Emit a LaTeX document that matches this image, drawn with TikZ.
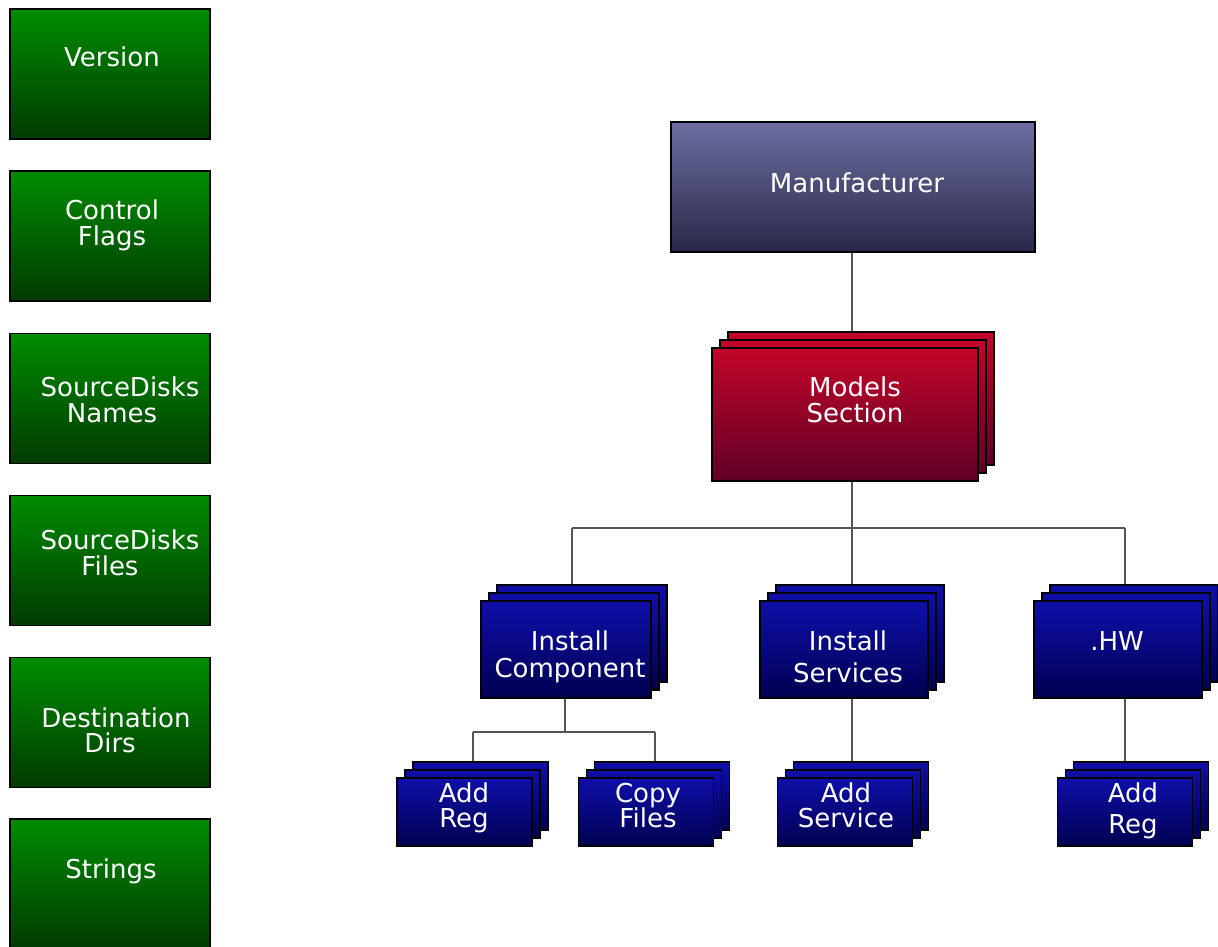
\documentclass[tikz,border=0pt]{standalone}
\usepackage{fontspec}
\setmainfont{DejaVu Sans}
\definecolor{G1}{RGB}{0,140,0}
\definecolor{G2}{RGB}{0,58,0}
\definecolor{M1}{RGB}{110,110,162}
\definecolor{M2}{RGB}{40,40,72}
\definecolor{R1}{RGB}{195,5,40}
\definecolor{R2}{RGB}{95,0,40}
\definecolor{B1}{RGB}{15,15,170}
\definecolor{B2}{RGB}{0,0,80}
\definecolor{LN}{RGB}{85,85,85}
\tikzset{
  boxbase/.style={draw=black,line width=1.5pt,inner sep=0pt},
  greenbox/.style={boxbase,top color=G1,bottom color=G2,minimum width=200pt,minimum height=130pt},
  mfrbox/.style={boxbase,top color=M1,bottom color=M2,minimum width=364pt,minimum height=130pt},
  redbox/.style={boxbase,top color=R1,bottom color=R2},
  bluebox/.style={boxbase,top color=B1,bottom color=B2},
  lbl/.style={text=white,font=\fontsize{26}{26}\selectfont,anchor=base,inner sep=0pt},
  conn/.style={draw=LN,line width=2.3pt}
}
\newcommand\mkstack[6]{%
  \node[#6,minimum width=#4,minimum height=#5] (#1c) at (#2+16,#3-16) {};
  \node[#6,minimum width=#4,minimum height=#5] (#1b) at (#2+8,#3-8) {};
  \node[#6,minimum width=#4,minimum height=#5] (#1) at (#2,#3) {};
}
\begin{document}
\begin{tikzpicture}[x=1pt,y=-1pt]
\useasboundingbox (0,0) rectangle (1218,947);
\clip (0,0) rectangle (1218,947);
\fill[white] (0,0) rectangle (1218,947);
% green column
\node[greenbox] (ver) at (110,74) {};
\node[greenbox] (cfl) at (110,236) {};
\node[greenbox] (sdn) at (110,398.5) {};
\node[greenbox] (sdf) at (110,560.5) {};
\node[greenbox] (dd) at (110,722.5) {};
\node[greenbox] (str) at (110,884) {};
\node[lbl] at (112,67) {Version};
\node[lbl] at (112,219) {Control};
\node[lbl] at (112,245) {Flags};
\node[lbl] at (120,396) {SourceDisks};
\node[lbl] at (112,422) {Names};
\node[lbl] at (120,549) {SourceDisks};
\node[lbl] at (110,575) {Files};
\node[lbl] at (116,727) {Destination};
\node[lbl] at (110,752) {Dirs};
\node[lbl] at (111,878) {Strings};
% tree
\node[mfrbox] (mfr) at (853,187) {};
\node[lbl] at (857,193) {Manufacturer};
\mkstack{models}{845}{414.5}{266pt}{133pt}{redbox}
\node[lbl] at (855,396) {Models};
\node[lbl] at (855,422) {Section};
\mkstack{ic}{566}{649.5}{170pt}{97pt}{bluebox}
\node[lbl] at (570,650) {Install};
\node[lbl] at (570,677) {Component};
\mkstack{is}{844}{649.5}{168pt}{97pt}{bluebox}
\node[lbl] at (848,650) {Install};
\node[lbl] at (848,682) {Services};
\mkstack{hw}{1118}{649.5}{168pt}{97pt}{bluebox}
\node[lbl] at (1117,650) {.HW};
\mkstack{ara}{464.5}{812}{135pt}{68pt}{bluebox}
\node[lbl] at (464,802) {Add};
\node[lbl] at (464,827) {Reg};
\mkstack{cf}{646}{812}{135pt}{68pt}{bluebox}
\node[lbl] at (648,802) {Copy};
\node[lbl] at (648,827) {Files};
\mkstack{as}{845}{812}{135pt}{68pt}{bluebox}
\node[lbl] at (846,802) {Add};
\node[lbl] at (846,827) {Service};
\mkstack{arb}{1125}{812}{135pt}{68pt}{bluebox}
\node[lbl] at (1133,802) {Add};
\node[lbl] at (1133,833) {Reg};
% connectors
\coordinate (j1) at (852,528);
\coordinate (xic) at (572,528);
\coordinate (xhw) at (1125,528);
\coordinate (j2) at (565,732);
\coordinate (xar) at (473,732);
\coordinate (xcf) at (655,732);
\draw[conn] (mfr.south -| j1) -- (modelsc.north -| j1);
\draw[conn] (models.south -| j1) -- (j1);
\draw[conn] (xic) -- (xhw);
\draw[conn] (xic) -- (icc.north -| xic);
\draw[conn] (j1) -- (isc.north -| j1);
\draw[conn] (xhw) -- (hwc.north -| xhw);
\draw[conn] (ic.south -| j2) -- (j2);
\draw[conn] (xar) -- (xcf);
\draw[conn] (xar) -- (arac.north -| xar);
\draw[conn] (xcf) -- (cfc.north -| xcf);
\draw[conn] (is.south -| j1) -- (asc.north -| j1);
\draw[conn] (hw.south -| xhw) -- (arbc.north -| xhw);
\end{tikzpicture}
\end{document}
